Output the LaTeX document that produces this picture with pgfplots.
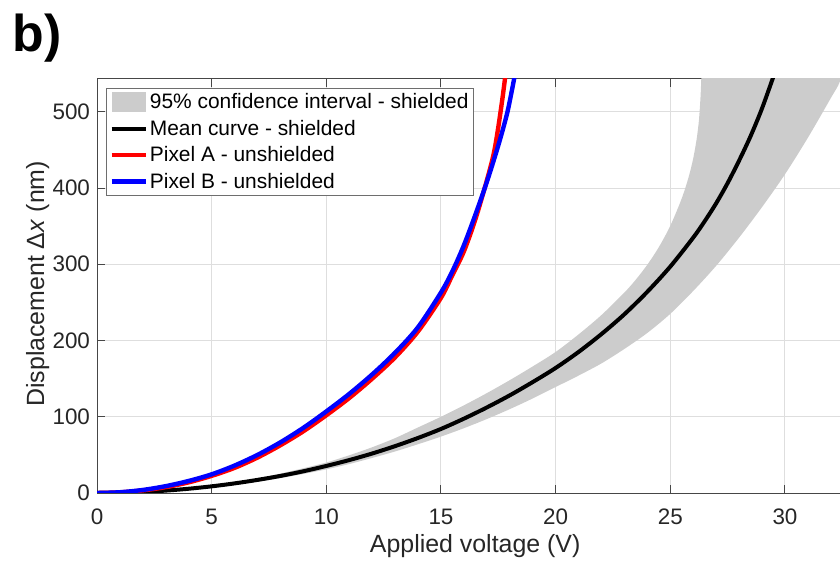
\documentclass[border=0pt]{standalone}
\usepackage{fontspec}
\setmainfont{Liberation Sans}
\usepackage{pgfplots}
\pgfplotsset{compat=1.18}
\definecolor{axgray}{RGB}{70,70,70}
\definecolor{txt}{RGB}{38,38,38}
\definecolor{band}{RGB}{204,204,204}
\definecolor{gridc}{RGB}{222,222,222}
\definecolor{legb}{RGB}{110,110,110}
\definecolor{mred}{RGB}{255,0,0}
\definecolor{mblue}{RGB}{0,0,255}
\begin{document}
\begin{tikzpicture}
\begin{axis}[
  scale only axis, width=371.5bp, height=207bp,
  xmin=0, xmax=32.4, ymin=0, ymax=543,
  axis y line*=left,
  xtick={0,5,...,30}, ytick={0,100,...,500},
  xtick pos=both,
  tick align=inside,
  major tick length=4bp,
  grid=major, major grid style={gridc, line width=0.5bp},
  axis line style={axgray, line width=0.5bp},
  tick style={axgray, line width=0.5bp},
  ticklabel style={font=\fontsize{11.25}{13}\selectfont, text=txt},
  /pgf/number format/assume math mode=true,
  xticklabel style={anchor=base, yshift=-15.5bp},
  xlabel={Applied voltage (V)},
  ylabel={Displacement Δ\textit{x} (nm)},
  label style={font=\fontsize{12.5}{15}\selectfont, text=txt},
  xlabel style={at={(axis description cs:0.509,-0.1449)}, anchor=base},
  ylabel style={at={(axis description cs:-0.0713,0.505)}, anchor=base},
  legend style={at={(axis description cs:0,1)}, anchor=north west, xshift=4.5bp, yshift=-4.5bp,
    draw=legb, line width=0.5bp, fill=white, font=\fontsize{10.5}{12}\selectfont, text=black,
    inner xsep=1.5bp, inner ysep=0.8bp, row sep=1bp,
    nodes={inner sep=1bp, text height=8.4bp, text depth=1.8bp}},
  legend cell align=left,
]
\coordinate (o) at (rel axis cs:0,0);
\addplot[fill=band, draw=none, smooth, legend image code/.code={\fill[band] (0cm,-5bp) rectangle (0.6cm,5bp);}] coordinates {
(0,0)(1,0.45)(2,1.8)(3,4)(4,6.3)(5,9.5)(6,14)(7,19.3)(8,25.5)(9,32.5)(10,40)(11,49.5)(12,60)(13,72)(14,86)(15,100)(16,115)(17,131)(18,148)(19,166)(20,185)(21,208)(22,233.5)(23,263)(23.5,280)(24,299.5)(24.5,322.5)(25,350.5)(25.5,386.5)(25.8,414.5)(26,439)(26.15,464.5)(26.25,489.5)(26.32,521)(26.36,551)(26.4,580)
(32.8,580)(32.4,540)(32,518)(31,466)(30,418)(29,375)(28,335)(27,298)(26,265)(25,235)(24,210)(23,189)(22,170)(21,154)(20,139)(19,124)(18,110)(17,97)(16,85)(15,74)(14,64)(13,54.5)(12,46)(11,38)(10,31)(9,25)(8,19.5)(7,14.8)(6,10.8)(5,7.5)(4,4.8)(3,2.7)(2,1.2)(1,0.3)(0,0)
};
\addlegendentry{95\% confidence interval - shielded}
\addplot[black, line width=2bp, smooth] coordinates {
(0,0)(1,0.35)(2,1.4)(3,3.15)(4,5.6)(5,8.75)(6,12.6)(7,17.2)(8,22.4)(9,28.5)(10,35.5)(11,43.2)(12,51.8)(13,61.5)(14,72.2)(15,84)(16,97.5)(17,112.2)(18,128.1)(19,145.5)(20,164)(21,185)(22,208.5)(23,234.5)(24,264)(25,297)(26,335)(26.5,356.5)(27,380)(27.5,406.5)(28,436)(28.5,468)(29,504.5)(29.5,546.5)
};
\addlegendentry{Mean curve - shielded}
\addplot[mred, line width=2.2bp, smooth] coordinates {
(0,0)(1,0.85)(2,3.4)(3,7.7)(4,14)(5,22.5)(6,33)(7,46.5)(8,62.7)(9,81)(10,102)(11,124.6)(12,150)(13,178)(14,212)(15,256)(15.5,286)(16,317)(16.5,359)(17,410)(17.3,445)(17.5,480)(17.7,522)(17.85,558)
};
\addlegendentry{Pixel A - unshielded}
\addplot[mblue, line width=2.2bp, smooth] coordinates {
(0,0)(1,1)(2,4)(3,9)(4,15.8)(5,24.5)(6,36)(7,50)(8,66.5)(9,85.5)(10,107)(11,130)(12,155.5)(13,184)(14,217.5)(15,263)(15.5,291)(16,325)(16.5,365)(17,408)(17.5,456)(17.9,500)(18.2,545)
};
\addlegendentry{Pixel B - unshielded}
\end{axis}
\node[anchor=base west, font=\fontsize{26}{30}\selectfont\bfseries, inner sep=0pt] at ([shift={(-42.5bp,220.5bp)}]o) {b)};
\pgfresetboundingbox
\path[use as bounding box] ([shift={(-48.5bp,-34bp)}]o) rectangle ([shift={(371.5bp,246.5bp)}]o);
\end{tikzpicture}
\end{document}
